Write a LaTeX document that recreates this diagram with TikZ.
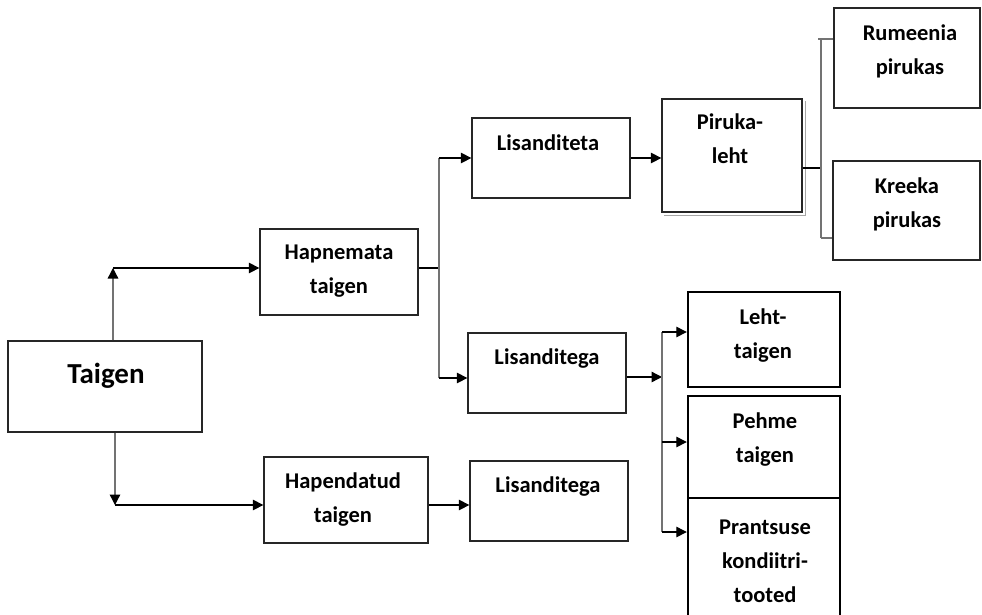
\documentclass[tikz,border=0pt]{standalone}
\usepackage{fontspec}
\setmainfont{Carlito}
\usetikzlibrary{arrows.meta,calc}
\begin{document}
\begin{tikzpicture}[x=1pt,y=-1pt,
  box/.style={draw=black!85, line width=1.3pt, inner sep=0pt},
  heavybox/.style={draw=black, line width=2.4pt, inner sep=0pt},
  lbl/.style={font=\bfseries\fontsize{22.5}{34}\selectfont, align=center, anchor=base, inner sep=0pt},
  arr/.style={line width=1.3pt, -{Triangle[length=10.5pt,width=10.5pt,color=black]}},
  link/.style={line width=1.3pt},
  riser/.style={line width=1.3pt, draw=black!55},
]
\useasboundingbox (0,0) rectangle (982,614);
\clip (0,0) rectangle (982,614);

% boxes
\node[box, minimum width=194pt, minimum height=91pt] (taigen) at (105,386.5) {};
\node[box, minimum width=158pt, minimum height=86pt] (hapn)   at (339,272) {};
\node[box, minimum width=164pt, minimum height=86pt] (hapd)   at (346,500) {};
\node[box, minimum width=158pt, minimum height=80pt] (lisa1)  at (551,158) {};
\node[box, minimum width=158pt, minimum height=80pt] (lisa2)  at (547,373) {};
\node[box, minimum width=158pt, minimum height=80pt] (lisa3)  at (549,501) {};
\node[box, minimum width=140pt, minimum height=113pt] (piruka) at (732,155.5) {};
\node[box, minimum width=146pt, minimum height=100pt] (rum)   at (907,58) {};
\node[box, minimum width=147pt, minimum height=99pt] (kree)   at (906.5,210.5) {};
\node[heavybox, minimum width=152pt, minimum height=95pt] (leht)  at (764,339.5) {};
\node[heavybox, minimum width=152pt, minimum height=102pt] (pehme) at (764,447) {};
\node[heavybox, minimum width=152pt, minimum height=124pt] (prant) at (764,560) {};

% slight shadow under the Piruka-leht box
\draw[black!35, line width=1pt] ($(piruka.south west)+(3,2.5)$) -- ($(piruka.south east)+(2.5,2.5)$) -- ($(piruka.north east)+(2.5,3)$);

% labels (anchored at the baseline of their last line)
\node[lbl, font=\bfseries\fontsize{29}{34}\selectfont] (t0) at (106,383) {Taigen};
\node[lbl] (t1) at (339,293) {Hapnemata\\taigen};
\node[lbl] (t2) at (343,522) {Hapendatud\\taigen};
\node[lbl] (t3) at (548,150) {Lisanditeta};
\node[lbl] (t4) at (547,364) {Lisanditega};
\node[lbl] (t5) at (548,492) {Lisanditega};
\node[lbl] (t6) at (730,163) {Piruka-\\leht};
\node[lbl] (t7) at (910,74) {Rumeenia\\pirukas};
\node[lbl] (t8) at (907,227) {Kreeka\\pirukas};
\node[lbl] (t9) at (763,358) {Leht-\\taigen};
\node[lbl] (t10) at (765,462) {Pehme\\taigen};
\node[lbl] (t11) at (765,602) {Prantsuse\\kondiitri-\\tooted};

% Taigen -> Hapnemata / Hapendatud
\coordinate (up) at (113,268);
\draw[arr, riser] (taigen.north -| up) -- (up);
\draw[arr] (up) -- (up -| hapn.west);
\coordinate (dn) at (115,505);
\draw[arr, riser] (taigen.south -| dn) -- (dn);
\draw[arr] (dn) -- (dn -| hapd.west);

% Hapnemata branch
\coordinate (hb) at (439,268);
\coordinate (hbt) at (439,158);
\coordinate (hbb) at (439,378);
\draw[link] (hapn.east |- hb) -- (hb);
\draw[riser] (hbt) -- (hbb);
\draw[arr] (hbt) -- (hbt -| lisa1.west);
\draw[arr] (hbb) -- (hbb -| lisa2.west);

% Lisanditeta -> Piruka-leht
\draw[arr] (lisa1.east) -- (lisa1.east -| piruka.west);

% Hapendatud -> Lisanditega
\draw[arr] (hapd.east |- dn) -- (dn -| lisa3.west);

% Piruka-leht bracket
\coordinate (pb) at (821,168);
\coordinate (bt) at (821,39);
\coordinate (bb) at (821,238);
\draw[link] (piruka.east |- pb) -- (pb);
\draw[riser] ($(bt)+(-3,0)$) -- (bt -| rum.west);
\draw[riser] (bt) -- (bb);
\draw[riser] (bb) -- (bb -| kree.west);

% Lisanditega branch
\coordinate (lb) at (662,377);
\coordinate (lbt) at (662,332);
\coordinate (lbm) at (662,442);
\coordinate (lbb) at (662,532);
\draw[arr] (lisa2.east |- lb) -- (lb);
\draw[riser] (lbt) -- (lbb);
\draw[arr] (lbt) -- (lbt -| leht.west);
\draw[arr] (lbm) -- (lbm -| pehme.west);
\draw[arr] (lbb) -- (lbb -| prant.west);
\end{tikzpicture}
\end{document}
